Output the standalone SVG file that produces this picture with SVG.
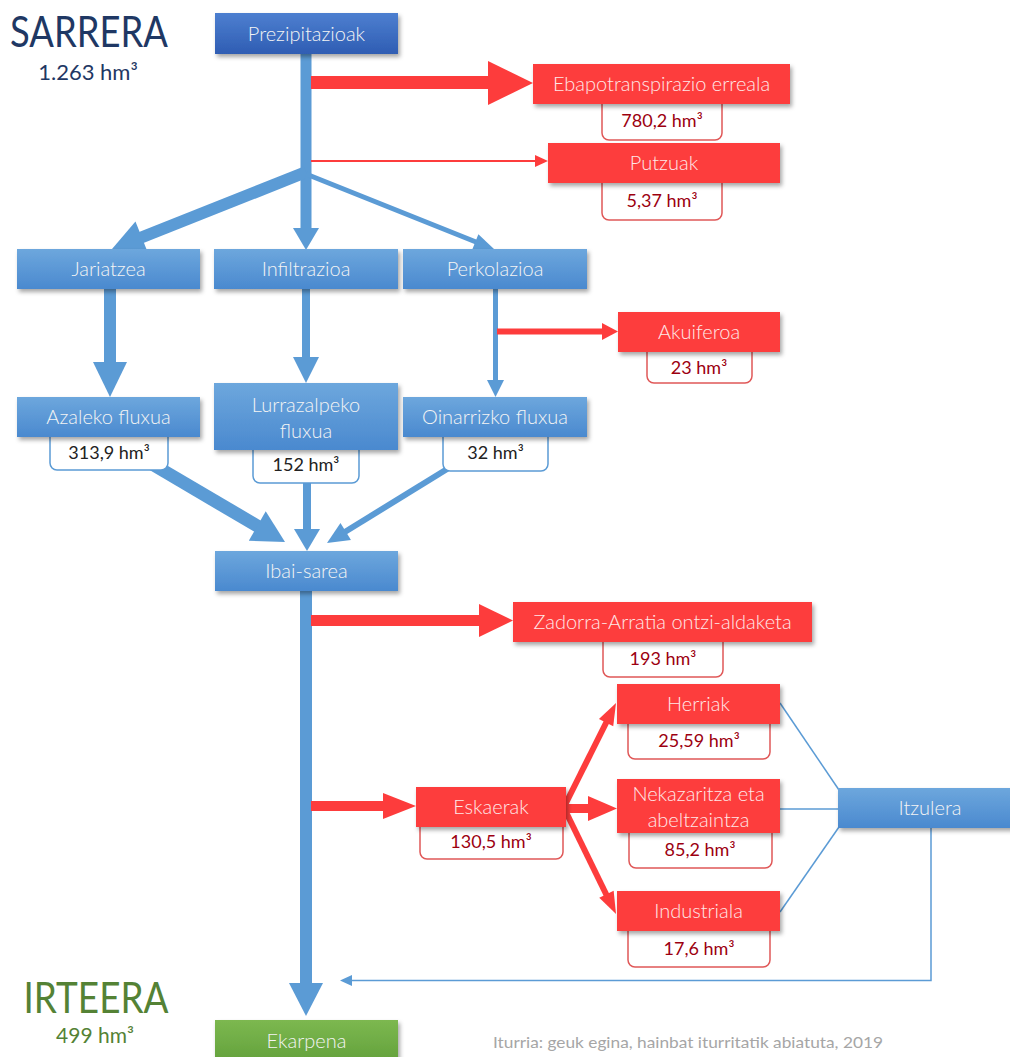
<svg xmlns="http://www.w3.org/2000/svg" width="1010" height="1057" viewBox="0 0 1010 1057">
<defs>
<linearGradient id="gBlue" x1="0" y1="0" x2="0" y2="1"><stop offset="0" stop-color="#6da7dd"/><stop offset="1" stop-color="#4a89cf"/></linearGradient>
<linearGradient id="gDark" x1="0" y1="0" x2="0" y2="1"><stop offset="0" stop-color="#4d7fd0"/><stop offset="1" stop-color="#2f5db3"/></linearGradient>
<linearGradient id="gGreen" x1="0" y1="0" x2="0" y2="1"><stop offset="0" stop-color="#7cb850"/><stop offset="1" stop-color="#62a03a"/></linearGradient>
<filter id="sh" x="-10%" y="-20%" width="125%" height="160%"><feDropShadow dx="2" dy="3" stdDeviation="2" flood-color="#000" flood-opacity="0.35"/></filter>
</defs>
<style>
text{font-family:Lato,"Open Sans","Liberation Sans",sans-serif;font-weight:300}
.reg{font-weight:400}
.lbl{font-size:20px;fill:#f4f4f4;text-anchor:middle}
.rlbl{font-size:20px;fill:#ffe8e8;text-anchor:middle}
.bbox{fill:url(#gBlue);filter:url(#sh)}
.rbox{fill:#fd3c3c;filter:url(#sh)}
.bval{fill:#fff;stroke:#5b9bd5;stroke-width:1.5}
.rval{fill:#fff;stroke:#e05858;stroke-width:1.5}
.bvt{font-size:18px;fill:#222;text-anchor:middle;font-weight:400}
.rvt{font-size:18px;fill:#9c0010;text-anchor:middle;font-weight:400}
.bl{stroke:#5b9bd5;fill:none}
.bh{fill:#5b9bd5}
.rl{stroke:#fd3c3c;fill:none}
.rh{fill:#fd3c3c}
</style>

<g id="connectors">
<line class="bl" x1="306" y1="54" x2="306" y2="230" stroke-width="11"/>
<polygon class="bh" points="293,228 319,228 306,250"/>
<line class="bl" x1="306" y1="172" x2="140" y2="238" stroke-width="12"/>
<polygon class="bh" points="0,0 -32,-17 -32,17" transform="translate(112,249) rotate(158.35)"/>
<line class="bl" x1="306" y1="174" x2="476" y2="242" stroke-width="5"/>
<polygon class="bh" points="0,0 -20,-8 -20,8" transform="translate(494,249) rotate(21.75)"/>
<line class="rl" x1="311" y1="82.5" x2="490" y2="82.5" stroke-width="13"/>
<polygon class="rh" points="488,61 533,83 488,105"/>
<line class="rl" x1="311" y1="161" x2="537" y2="161" stroke-width="2"/>
<polygon class="rh" points="535,155 548,161 535,167"/>
<line class="bl" x1="110" y1="289" x2="110" y2="364" stroke-width="12"/>
<polygon class="bh" points="93,362 127,362 110,397"/>
<line class="bl" x1="306" y1="289" x2="306" y2="359" stroke-width="8"/>
<polygon class="bh" points="293,357 319,357 306,383"/>
<line class="bl" x1="495.5" y1="289" x2="495.5" y2="382" stroke-width="5"/>
<polygon class="bh" points="487,380 504,380 495.5,397"/>
<line class="rl" x1="497" y1="331.5" x2="604" y2="331.5" stroke-width="6"/>
<polygon class="rh" points="602,323 618,331.5 602,340"/>
<line class="bl" x1="152" y1="464" x2="259" y2="527" stroke-width="13"/>
<polygon class="bh" points="0,0 -32,-17 -32,17" transform="translate(285,542) rotate(29.9)"/>
<line class="bl" x1="307" y1="482" x2="307" y2="531" stroke-width="8"/>
<polygon class="bh" points="294,529 320,529 307,551"/>
<line class="bl" x1="452" y1="466" x2="344" y2="532.5" stroke-width="6"/>
<polygon class="bh" points="0,0 -22,-10 -22,10" transform="translate(327,543) rotate(148.3)"/>
<line class="bl" x1="306" y1="590" x2="306" y2="985" stroke-width="12"/>
<polygon class="bh" points="289,983 323,983 306,1016"/>
<line class="rl" x1="311" y1="620.5" x2="481" y2="620.5" stroke-width="11"/>
<polygon class="rh" points="479,604 513,620.5 479,637"/>
<line class="rl" x1="311" y1="806" x2="385" y2="806" stroke-width="10"/>
<polygon class="rh" points="383,793 416,806 383,819"/>
<line class="rl" x1="565" y1="805" x2="607" y2="721" stroke-width="6"/>
<polygon class="rh" points="0,0 -22,-8 -22,8" transform="translate(616,703) rotate(-63.2)"/>
<line class="rl" x1="565" y1="808.5" x2="590" y2="808.5" stroke-width="9"/>
<polygon class="rh" points="588,796 617,808.5 588,821"/>
<line class="rl" x1="565" y1="810" x2="607" y2="896" stroke-width="6"/>
<polygon class="rh" points="0,0 -22,-8 -22,8" transform="translate(616,914) rotate(64.3)"/>
<line class="bl" x1="780" y1="703" x2="839" y2="790" stroke-width="1.5"/>
<line class="bl" x1="780" y1="809" x2="839" y2="809" stroke-width="1.5"/>
<line class="bl" x1="780" y1="912" x2="839" y2="827" stroke-width="1.5"/>
<polyline class="bl" points="931,828 931,980.5 350,980.5" stroke-width="1.5"/>
<polygon class="bh" points="340,980.5 352,975 352,986"/>
</g>

<g id="titles">
<text class="reg" x="89" y="47" font-size="42" fill="#1f3864" text-anchor="middle" textLength="158" lengthAdjust="spacingAndGlyphs">SARRERA</text>
<text class="reg" x="88" y="80" font-size="22" fill="#1f3864" text-anchor="middle">1.263 hm³</text>
<text class="reg" x="96" y="1013" font-size="42" fill="#548235" text-anchor="middle" textLength="145" lengthAdjust="spacingAndGlyphs">IRTEERA</text>
<text class="reg" x="95" y="1043" font-size="21" fill="#548235" text-anchor="middle">499 hm³</text>
<text class="reg" x="688" y="1048" font-size="16" fill="#a6a6a6" text-anchor="middle" textLength="390" lengthAdjust="spacingAndGlyphs">Iturria: geuk egina, hainbat iturritatik abiatuta, 2019</text>
</g>

<g id="n-prezipitazioak"><rect x="215" y="13" width="183" height="41" fill="url(#gDark)" filter="url(#sh)"/><text class="lbl" x="306.5" y="40.5">Prezipitazioak</text></g>

<g id="n-ebapotranspirazio"><rect class="rval" x="602" y="96" width="120" height="44" rx="7"/><rect class="rbox" x="533" y="64" width="257" height="40"/><text class="rlbl" x="661.5" y="91">Ebapotranspirazio erreala</text><text class="rvt" x="662" y="127">780,2 hm³</text></g>

<g id="n-putzuak"><rect class="rval" x="602" y="176" width="120" height="44" rx="7"/><rect class="rbox" x="548" y="143" width="232" height="40"/><text class="rlbl" x="664" y="170">Putzuak</text><text class="rvt" x="662" y="207">5,37 hm³</text></g>

<g id="n-jariatzea"><rect class="bbox" x="17" y="249" width="183" height="40"/><text class="lbl" x="108.5" y="276">Jariatzea</text></g>
<g id="n-infiltrazioa"><rect class="bbox" x="214" y="249" width="184" height="40"/><text class="lbl" x="306" y="276">Infiltrazioa</text></g>
<g id="n-perkolazioa"><rect class="bbox" x="403" y="249" width="184" height="40"/><text class="lbl" x="495" y="276">Perkolazioa</text></g>

<g id="n-akuiferoa"><rect class="rval" x="647" y="345" width="105" height="38" rx="7"/><rect class="rbox" x="618" y="312" width="162" height="40"/><text class="rlbl" x="699" y="339">Akuiferoa</text><text class="rvt" x="699" y="374">23 hm³</text></g>

<g id="n-azaleko"><rect class="bval" x="50" y="430" width="118" height="40" rx="7"/><rect class="bbox" x="17" y="397" width="183" height="40"/><text class="lbl" x="108.5" y="424">Azaleko fluxua</text><text class="bvt" x="109" y="459">313,9 hm³</text></g>
<g id="n-lurrazalpeko"><rect class="bval" x="253" y="443" width="106" height="40" rx="7"/><rect class="bbox" x="214" y="383" width="184" height="67"/><text class="lbl" x="306" y="412">Lurrazalpeko</text><text class="lbl" x="306" y="438">fluxua</text><text class="bvt" x="306" y="471">152 hm³</text></g>
<g id="n-oinarrizko"><rect class="bval" x="443" y="430" width="105" height="41" rx="7"/><rect class="bbox" x="403" y="397" width="184" height="40"/><text class="lbl" x="495" y="424">Oinarrizko fluxua</text><text class="bvt" x="495.5" y="459">32 hm³</text></g>

<g id="n-ibai"><rect class="bbox" x="215" y="551" width="183" height="40"/><text class="lbl" x="306.5" y="578">Ibai-sarea</text></g>

<g id="n-zadorra"><rect class="rval" x="603" y="635" width="120" height="42" rx="7"/><rect class="rbox" x="513" y="602" width="299" height="40"/><text class="rlbl" x="662.5" y="629">Zadorra-Arratia ontzi-aldaketa</text><text class="rvt" x="663" y="665">193 hm³</text></g>

<g id="n-eskaerak"><rect class="rval" x="420" y="820" width="143" height="39" rx="7"/><rect class="rbox" x="416" y="787" width="150" height="40"/><text class="rlbl" x="491" y="814">Eskaerak</text><text class="rvt" x="491" y="848">130,5 hm³</text></g>

<g id="n-herriak"><rect class="rval" x="628" y="717" width="142" height="42" rx="7"/><rect class="rbox" x="617" y="684" width="163" height="40"/><text class="rlbl" x="698.5" y="711">Herriak</text><text class="rvt" x="699" y="747">25,59 hm³</text></g>
<g id="n-nekazaritza"><rect class="rval" x="629" y="826" width="143" height="42" rx="7"/><rect class="rbox" x="617" y="779" width="163" height="54"/><text class="rlbl" x="698.5" y="801">Nekazaritza eta</text><text class="rlbl" x="698.5" y="827">abeltzaintza</text><text class="rvt" x="700" y="856">85,2 hm³</text></g>
<g id="n-industriala"><rect class="rval" x="628" y="924" width="142" height="43" rx="7"/><rect class="rbox" x="617" y="891" width="163" height="40"/><text class="rlbl" x="698.5" y="918">Industriala</text><text class="rvt" x="699" y="955">17,6 hm³</text></g>

<g id="n-itzulera"><rect class="bbox" x="838" y="788" width="186" height="40"/><text class="lbl" x="930" y="815">Itzulera</text></g>

<g id="n-ekarpena"><rect x="215" y="1020" width="183" height="45" fill="url(#gGreen)" filter="url(#sh)"/><text class="lbl" x="306.5" y="1048">Ekarpena</text></g>
</svg>
